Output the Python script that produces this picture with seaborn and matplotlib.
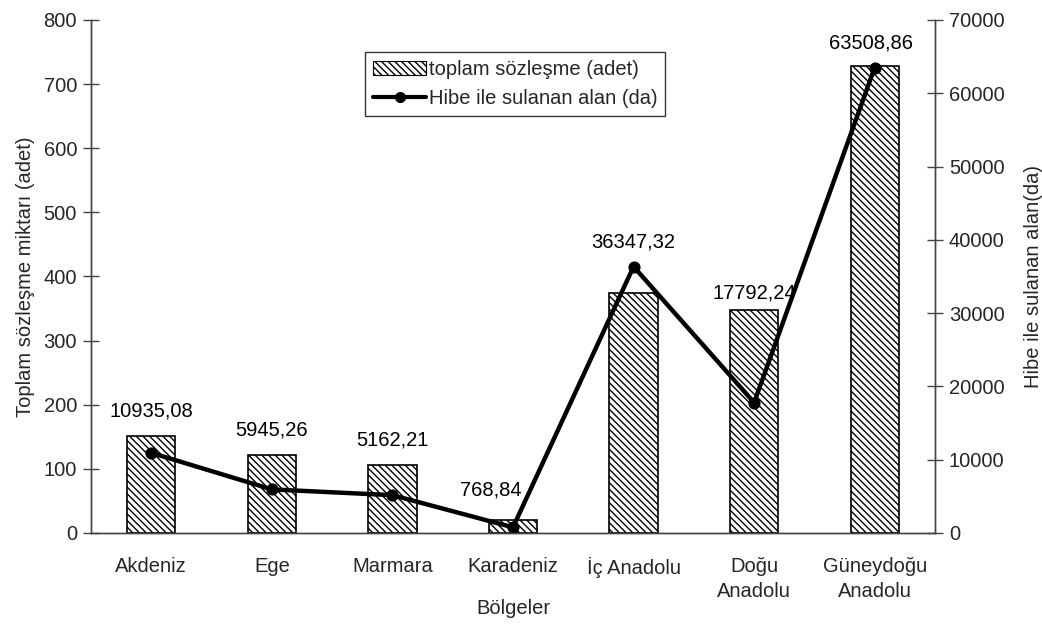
import numpy as np
import matplotlib
matplotlib.use("Agg")
import matplotlib.pyplot as plt
import seaborn as sns
from matplotlib.patches import Patch
from matplotlib.lines import Line2D

# veriler
bolgeler = ["Akdeniz", "Ege", "Marmara", "Karadeniz", "İç Anadolu",
            "Doğu\nAnadolu", "Güneydoğu\nAnadolu"]
sozlesme = [151, 122, 106, 20, 374, 348, 728]
alan = [10935.08, 5945.26, 5162.21, 768.84, 36347.32, 17792.24, 63508.86]
alan_etiket = ["10935,08", "5945,26", "5162,21", "768,84", "36347,32",
               "17792,24", "63508,86"]

sns.set_theme(style="white")
plt.rcParams["font.family"] = ["Liberation Sans", "DejaVu Sans"]
plt.rcParams["hatch.linewidth"] = 1.0
plt.rcParams["hatch.color"] = "black"
FS = 14.5
HATCH = "\\\\\\\\\\"

fig = plt.figure(figsize=(10.42, 6.28), dpi=100)
ax = fig.add_axes([0.0873, 0.1513, 0.8100, 0.8169])

sns.barplot(x=bolgeler, y=sozlesme, ax=ax, width=0.4, color="white",
            edgecolor="black", linewidth=1.2, saturation=1)
for p in ax.patches:
    p.set_hatch(HATCH)

ax.set_xlim(-0.5, 6.5)
ax.set_ylim(0, 800)
ax.set_yticks(np.arange(0, 801, 100))
ax.set_xticks(np.arange(-0.5, 7, 1), minor=True)
ax.tick_params(axis="x", which="major", length=0, labelsize=FS, pad=17)
ax.tick_params(axis="x", which="minor", length=12, direction="inout", width=1, color="#444444")
ax.tick_params(axis="y", length=12, direction="inout", width=1, labelsize=FS, pad=4, color="#444444")
for t in ax.get_xticklabels():
    t.set_linespacing(1.45)
    t.set_va("top")
ax.set_xlabel("Bölgeler", fontsize=FS)
ax.xaxis.set_label_coords(0.5, -0.128)
ax.set_ylabel("Toplam sözleşme miktarı (adet)", fontsize=FS, labelpad=6)

ax2 = ax.twinx()
sns.lineplot(x=np.arange(len(alan)), y=alan, ax=ax2, color="black",
             linewidth=3.2, marker="o", markersize=8, markeredgecolor="black")
ax2.set_ylim(0, 70000)
ax2.set_yticks(np.arange(0, 70001, 10000))
ax2.set_xlim(-0.5, 6.5)
ax2.tick_params(axis="y", length=12, direction="inout", width=1, labelsize=FS, pad=4, color="#444444")
ax2.set_ylabel("Hibe ile sulanan alan(da)", fontsize=FS, labelpad=14)

for a in (ax, ax2):
    a.spines["top"].set_visible(False)
    for s in ("left", "right", "bottom"):
        a.spines[s].set_color("#444444")
        a.spines[s].set_linewidth(1.0)

# veri etiketleri: çubuk ya da noktanın üstünde
dx = [0, 0, 0, -16, 0, 0, -3]
dy = [18, 18, 18, 22, 18, 12, 17]
for i, (b, v, t) in enumerate(zip(sozlesme, alan, alan_etiket)):
    y = max(b, v / 70000 * 800)
    ax.annotate(t, (i, y), xytext=(dx[i], dy[i]), textcoords="offset points",
                ha="center", va="center", fontsize=FS, color="black")

handles = [Patch(facecolor="white", edgecolor="black", hatch=HATCH, linewidth=0.8),
           Line2D([0], [0], color="black", linewidth=3, marker="o", markersize=7)]
labels = ["toplam sözleşme (adet)", "Hibe ile sulanan alan (da)"]
leg = ax2.legend(handles, labels, loc="upper left", bbox_to_anchor=(0.325, 0.937),
                 fontsize=FS, frameon=True, fancybox=False, handlelength=2.6,
                 handleheight=0.7, handletextpad=0.15, borderpad=0.4,
                 labelspacing=0.5, borderaxespad=0)
leg.get_frame().set_edgecolor("black")
leg.get_frame().set_linewidth(1.0)

fig.savefig("out.png", dpi=100)
